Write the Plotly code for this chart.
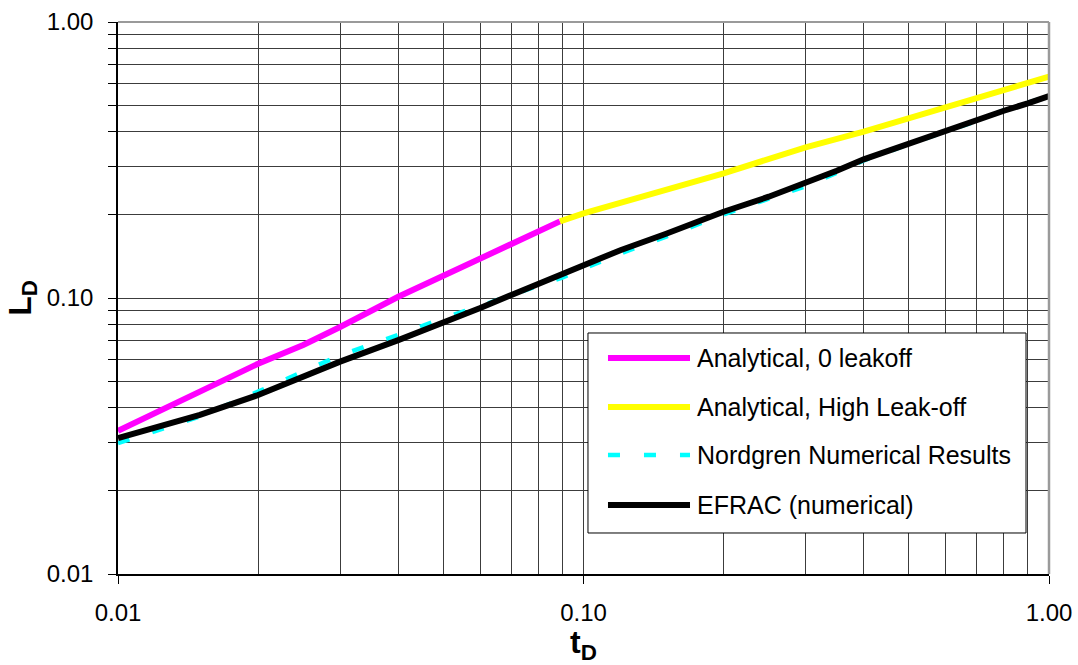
import plotly.graph_objects as go

# Dimensionless fracture length L_D versus dimensionless time t_D
t_zero = [0.01, 0.015, 0.02, 0.025, 0.03, 0.04, 0.05, 0.06, 0.07, 0.08, 0.089]
L_zero = [0.0330, 0.0455, 0.0578, 0.0676, 0.0785, 0.1010, 0.1205, 0.1387, 0.1567, 0.1738, 0.1895]

t_high = [0.089, 0.1, 0.2, 0.3, 0.4, 0.5, 0.6, 0.7, 0.8, 0.9, 1.0]
L_high = [0.1895, 0.2027, 0.283, 0.3515, 0.401, 0.448, 0.491, 0.529, 0.564, 0.596, 0.634]

t_num = [0.01, 0.015, 0.02, 0.03, 0.04, 0.05, 0.06, 0.07, 0.08, 0.09, 0.10, 0.12,
         0.15, 0.20, 0.25, 0.30, 0.35, 0.40, 0.50, 0.60, 0.70, 0.80, 0.90, 1.00]
L_nordgren = [0.0298, 0.0372, 0.0458, 0.0620, 0.0735, 0.0845, 0.0935, 0.1030, 0.1110,
              0.1185, 0.1280, 0.1450, 0.1664, 0.2010, 0.2290, 0.2540, 0.2840, 0.3150,
              0.3610, 0.3990, 0.4380, 0.4780, 0.5080, 0.5390]
L_efrac = [0.0311, 0.0377, 0.0445, 0.0588, 0.0704, 0.0811, 0.0920, 0.1026, 0.1125,
           0.1225, 0.1320, 0.1490, 0.1706, 0.2054, 0.2328, 0.2610, 0.2890, 0.3180,
           0.3634, 0.4010, 0.4390, 0.4770, 0.5070, 0.5390]

series_names = ["Analytical, 0 leakoff", "Analytical, High Leak-off",
                "Nordgren Numerical Results", "EFRAC (numerical)"]
series_colors = ["#FF00FF", "#FFFF00", "#00FFFF", "#000000"]
series_dash = ["solid", "solid", "12px,24px", "solid"]
series_width = [6, 6, 4.5, 6]

x_ticks = [0.01, 0.1, 1.0]
x_ticktext = ["0.01", "0.10", "1.00"]
y_ticks = [0.01, 0.1, 1.0]
y_ticktext = ["0.01", "0.10", "1.00"]
minor_ticks = [m * 10.0 ** e for e in (-2, -1) for m in range(2, 10)]

FONT = "Arial, Liberation Sans, sans-serif"
GRID = "#3c3c3c"

fig = go.Figure()
xs = [t_zero, t_high, t_num, t_num]
ys = [L_zero, L_high, L_nordgren, L_efrac]
for i in range(4):
    fig.add_trace(go.Scatter(
        x=xs[i], y=ys[i], mode="lines", name=series_names[i],
        line=dict(color=series_colors[i], width=series_width[i], dash=series_dash[i]),
        showlegend=False, hoverinfo="skip"))

fig.update_layout(
    width=1078, height=665,
    margin=dict(l=118, r=29, t=22, b=91),
    paper_bgcolor="white", plot_bgcolor="white",
    font=dict(family=FONT, size=24, color="black"),
)

fig.update_xaxes(
    type="log", range=[-2, 0], automargin=False,
    tickvals=x_ticks, ticktext=x_ticktext,
    showgrid=True, gridcolor=GRID, gridwidth=1,
    minor=dict(tickvals=minor_ticks, showgrid=True, gridcolor=GRID, gridwidth=1),
    ticks="outside", ticklen=8, tickcolor="black",
    showline=True, linecolor="black", linewidth=1.5,
    zeroline=False, ticklabelstandoff=8,
    title=dict(text="<b>t<sub>D</sub></b>", font=dict(size=32), standoff=8),
)
fig.update_yaxes(
    type="log", range=[-2, 0], automargin=False,
    tickvals=y_ticks, ticktext=y_ticktext,
    showgrid=True, gridcolor=GRID, gridwidth=1,
    minor=dict(tickvals=minor_ticks, showgrid=True, gridcolor=GRID, gridwidth=1,
               ticks="outside", ticklen=8, tickcolor="black"),
    ticks="outside", ticklen=8, tickcolor="black",
    showline=True, linecolor="black", linewidth=1.5,
    zeroline=False, ticklabelstandoff=10,
    title=dict(text="<b>L<sub>D</sub></b>", font=dict(size=32), standoff=6),
)

# grey frame on the top and right of the plotting area
fig.add_shape(type="line", xref="paper", yref="paper", x0=0, x1=1, y0=1, y1=1,
              line=dict(color="#9a9a9a", width=2))
fig.add_shape(type="line", xref="paper", yref="paper", x0=1, x1=1, y0=0, y1=1,
              line=dict(color="#9a9a9a", width=2.5))

# legend box with long line samples
box_x0, box_x1, box_y0, box_y1 = 0.5048, 0.9753, 0.0743, 0.4366
fig.add_shape(type="rect", xref="paper", yref="paper",
              x0=box_x0, x1=box_x1, y0=box_y0, y1=box_y1,
              line=dict(color="black", width=1), fillcolor="white", layer="above")
row_y = [0.3913, 0.3025, 0.2156, 0.125]
for i in range(4):
    fig.add_shape(type="line", xref="paper", yref="paper",
                  x0=0.5263, x1=0.6144, y0=row_y[i], y1=row_y[i], layer="above",
                  line=dict(color=series_colors[i], width=series_width[i],
                            dash=series_dash[i]))
    fig.add_annotation(xref="paper", yref="paper", x=0.6200, y=row_y[i],
                       text=series_names[i], showarrow=False,
                       xanchor="left", yanchor="middle",
                       font=dict(family=FONT, size=25, color="black"))

fig.write_html("out.html")
